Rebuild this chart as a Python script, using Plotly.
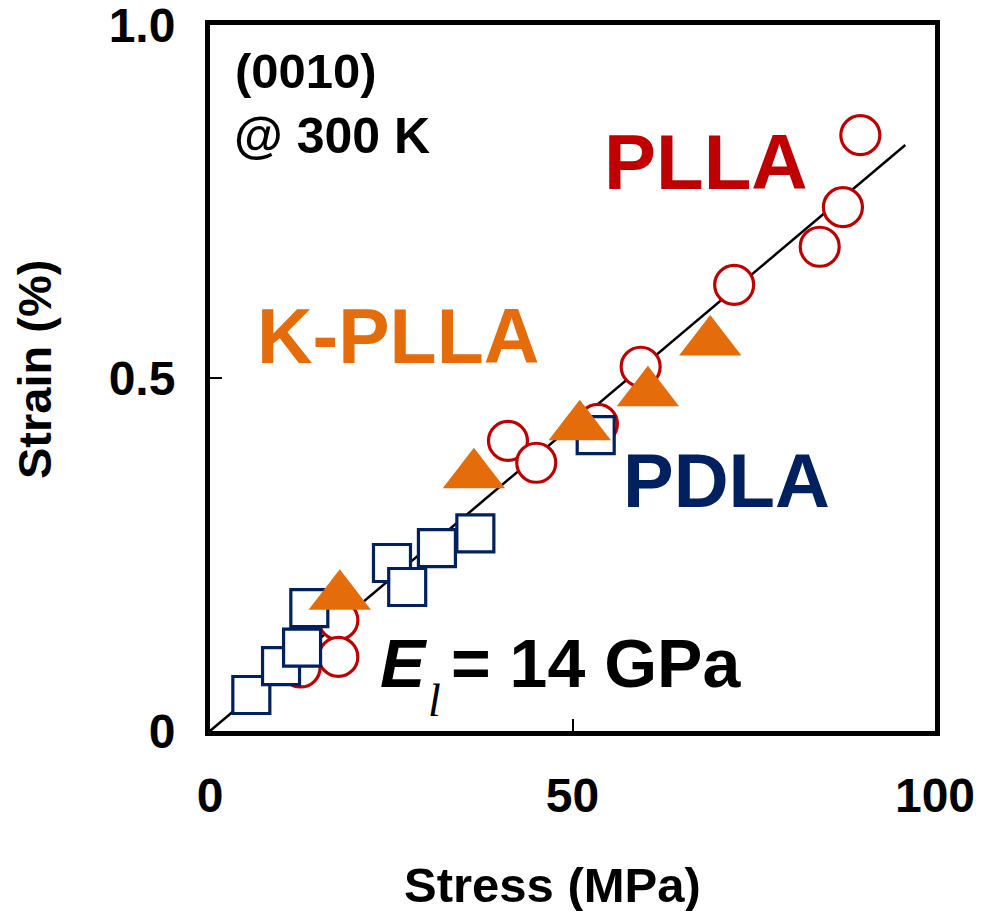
import plotly.graph_objects as go

# ---- data ----
plla_stress = [89.7, 87.3, 84.1, 72.3, 59.4, 41.1, 45.0, 53.5, 17.7, 17.7, 12.5]
plla_strain = [0.844, 0.742, 0.686, 0.632, 0.516, 0.411, 0.380, 0.435, 0.157, 0.105, 0.090]

kplla_stress = [17.9, 36.4, 51.0, 60.4, 69.0]
kplla_strain = [0.191, 0.363, 0.431, 0.479, 0.551]

pdla_stress = [5.7, 9.8, 12.7, 13.7, 25.1, 27.2, 31.3, 36.6, 53.2]
pdla_strain = [0.051, 0.092, 0.118, 0.174, 0.238, 0.204, 0.259, 0.280, 0.419]

fit_stress = [0, 95.9]
fit_strain = [0, 0.83]

x_ticks = [0, 50, 100]
x_ticklabels = ["0", "50", "100"]
y_ticks = [0, 0.5, 1.0]
y_ticklabels = ["0", "0.5", "1.0"]

RED = "#C00000"
ORANGE = "#E46C0A"
NAVY = "#002060"
FONT = "Liberation Sans, Arial, sans-serif"

fig = go.Figure()
fig.add_trace(go.Scatter(x=fit_stress, y=fit_strain, mode="lines",
                         line=dict(color="black", width=2.5), hoverinfo="skip"))
fig.add_trace(go.Scatter(x=plla_stress, y=plla_strain, mode="markers", name="PLLA",
                         marker=dict(symbol="circle", size=39, color="white",
                                     line=dict(color=RED, width=3.2))))
fig.add_trace(go.Scatter(x=pdla_stress, y=pdla_strain, mode="markers", name="PDLA",
                         marker=dict(symbol="square", size=37, color="white",
                                     line=dict(color=NAVY, width=3.2))))
fig.add_trace(go.Scatter(x=kplla_stress, y=kplla_strain, mode="markers", name="K-PLLA",
                         marker=dict(symbol="triangle-up", size=54, color=ORANGE,
                                     line=dict(width=0))))

def ann(text, x, y, size, color="black", family=FONT):
    fig.add_annotation(text=text, x=x, y=y, xref="x", yref="y", showarrow=False,
                       xanchor="center", yanchor="middle",
                       font=dict(family=family, size=size, color=color))

ann("<b>(0010)</b>", 13.2, 0.935, 49)
ann("<b>@ 300 K</b>", 16.8, 0.843, 50)
ann("<b>PLLA</b>", 68.4, 0.806, 78, RED)
ann("<b>K-PLLA</b>", 25.9, 0.560, 77, ORANGE)
ann("<b>PDLA</b>", 71.3, 0.355, 76, NAVY)
ann("<b><i>E</i></b>", 26.8, 0.097, 68)
ann("<i>l</i>", 30.9, 0.043, 46, family="Liberation Serif, Times New Roman, serif")
ann("<b>= 14 GPa</b>", 53.3, 0.097, 68)

# axis titles
fig.add_annotation(text="<b>Stress (MPa)</b>", x=552, y=911 - 885, xref="paper", yref="paper",
                   showarrow=False, xanchor="center", yanchor="middle",
                   font=dict(family=FONT, size=49, color="black"))
fig.add_annotation(text="<b>Strain (%)</b>", x=34, y=911 - 370, xref="paper", yref="paper",
                   showarrow=False, xanchor="center", yanchor="middle", textangle=-90,
                   font=dict(family=FONT, size=47, color="black"))

axis_common = dict(showline=True, linecolor="black", linewidth=5, mirror=True,
                   ticks="inside", ticklen=12, tickwidth=2, tickcolor="black",
                   showgrid=False, zeroline=False, ticklabeloverflow="allow",
                   tickfont=dict(family=FONT, size=48, color="black"))

fig.update_xaxes(range=[0, 100], tickvals=x_ticks,
                 ticktext=["<b>%s</b>" % t for t in x_ticklabels],
                 ticklabelstandoff=18, **axis_common)
fig.update_yaxes(range=[0, 1.0001], tickvals=y_ticks,
                 ticktext=["<b>%s</b>" % t for t in y_ticklabels],
                 ticklabelstandoff=20, **axis_common)

L, R, T, B = 210, 51, 25, 180
fig.update_layout(width=986, height=911, showlegend=False,
                  plot_bgcolor="white", paper_bgcolor="white",
                  margin=dict(l=L, r=R, t=T, b=B, autoexpand=False))

# convert pixel positions of axis-title annotations to paper fractions
W, H = 986, 911
pw, ph = W - L - R, H - T - B
for a in fig.layout.annotations:
    if a.xref == "paper":
        a.x = (a.x - L) / pw
        a.y = (a.y - B) / ph

fig.write_html("out.html")
